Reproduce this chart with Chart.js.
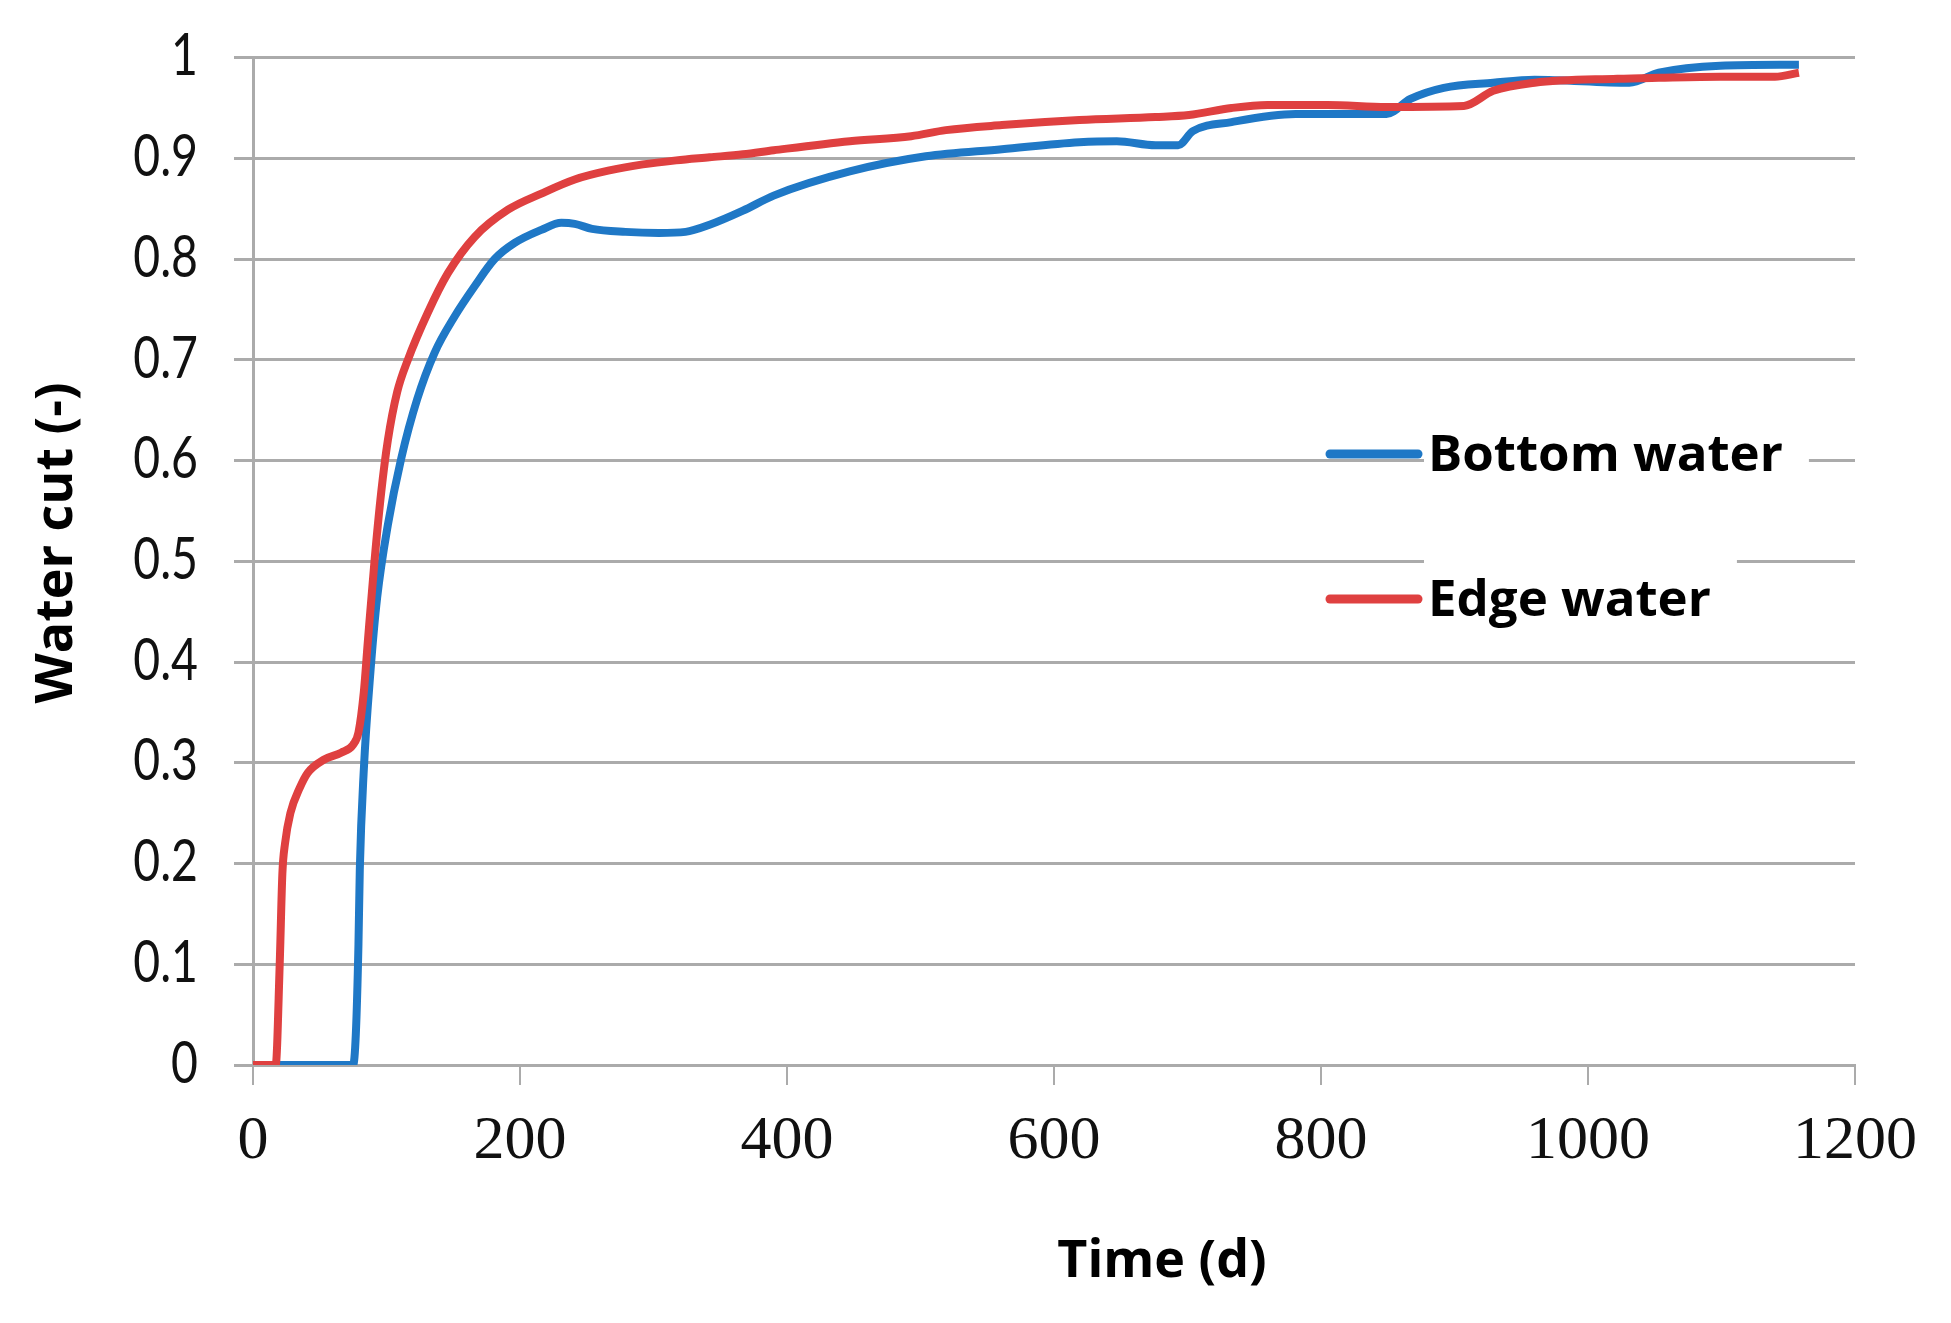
<!DOCTYPE html>
<html lang="en">
<head>
    <meta charset="UTF-8">
    <title>Water cut vs time</title>
    <script src="https://cdn.jsdelivr.net/npm/chart.js"></script>
    <style>
        html, body { margin: 0; padding: 0; background: #fff; }
        #wrap { width: 1951px; height: 1323px; }
    </style>
</head>
<body>
    <div id="wrap"><canvas id="waterCutChart"></canvas></div>
    <script>
        // Time (d) and water cut (-)
        var bottomDays = [18, 75, 77, 79, 80, 83, 88, 93, 101, 111, 123, 136, 151, 166, 181, 196, 216, 231, 241, 254, 279, 304, 324, 342, 367, 390, 447, 504, 561, 619, 647, 676, 693, 704, 733, 781, 805, 849, 867, 892, 929, 960, 1031, 1053, 1099, 1158];
        var bottomCut = [0, 0, 0.03, 0.12, 0.194, 0.293, 0.391, 0.464, 0.536, 0.602, 0.661, 0.707, 0.743, 0.773, 0.8, 0.816, 0.829, 0.836, 0.835, 0.83, 0.827, 0.826, 0.827, 0.834, 0.848, 0.863, 0.887, 0.902, 0.909, 0.916, 0.917, 0.913, 0.913, 0.927, 0.936, 0.944, 0.944, 0.944, 0.959, 0.97, 0.975, 0.978, 0.975, 0.985, 0.992, 0.993];

        var edgeDays = [0, 17, 20, 22, 24, 28, 35, 41, 53, 66, 75, 79, 83, 86, 91, 96, 101, 108, 116, 131, 146, 166, 191, 216, 241, 267, 292, 317, 342, 367, 390, 447, 493, 519, 561, 619, 676, 701, 733, 760, 805, 849, 907, 929, 960, 1022, 1053, 1099, 1140, 1158];
        var edgeCut = [0, 0, 0.1, 0.19, 0.22, 0.25, 0.275, 0.29, 0.303, 0.31, 0.318, 0.33, 0.37, 0.42, 0.5, 0.568, 0.62, 0.668, 0.7, 0.747, 0.786, 0.822, 0.849, 0.865, 0.879, 0.888, 0.894, 0.898, 0.901, 0.904, 0.908, 0.917, 0.922, 0.928, 0.933, 0.938, 0.941, 0.943, 0.95, 0.953, 0.953, 0.951, 0.952, 0.967, 0.975, 0.979, 0.98, 0.981, 0.981, 0.985];

        var seriesNames = ['Bottom water', 'Edge water'];
        var xTitle = 'Time (d)';
        var yTitle = 'Water cut (-)';

        var BLUE = '#1f78c6';
        var RED = '#df4040';
        var GRID = '#ababab';

        function pairs(xs, ys) {
            return xs.map(function (x, i) { return { x: x, y: ys[i] }; });
        }

        function fmt(v) {
            return String(Math.round(v * 10) / 10);
        }

        // legend box inside the plot, axis titles, narrow y tick labels
        var extras = {
            id: 'extras',
            afterDatasetsDraw: function (chart) {
                var ctx = chart.ctx;
                var rows = [
                    { name: seriesNames[0], color: BLUE, y: 454 },
                    { name: seriesNames[1], color: RED, y: 599 }
                ];
                ctx.save();
                ctx.font = 'bold 51px "Open Sans", "Noto Sans", sans-serif';
                ctx.textBaseline = 'middle';
                rows.forEach(function (r) {
                    var w = ctx.measureText(r.name).width;
                    ctx.fillStyle = '#fff';
                    ctx.fillRect(1424, r.y - 40, w + 30, 80);
                    ctx.strokeStyle = r.color;
                    ctx.lineWidth = 9;
                    ctx.lineCap = 'round';
                    ctx.beginPath();
                    ctx.moveTo(1330, r.y);
                    ctx.lineTo(1418, r.y);
                    ctx.stroke();
                    ctx.fillStyle = '#000';
                    ctx.fillText(r.name, 1428, r.y + 2);
                });

                ctx.font = 'bold 52px "Open Sans", "Noto Sans", sans-serif';
                ctx.textAlign = 'center';
                ctx.fillText(xTitle, 1162, 1262);
                ctx.save();
                ctx.translate(57, 543);
                ctx.rotate(-Math.PI / 2);
                ctx.fillText(yTitle, 0, 0);
                ctx.restore();

                var ys = chart.scales.y;
                ctx.font = '58px Lato, "Open Sans", sans-serif';
                ctx.textAlign = 'right';
                ctx.fillStyle = '#111';
                ys.ticks.forEach(function (t, i) {
                    ctx.save();
                    ctx.translate(198, ys.getPixelForTick(i) - 1);
                    ctx.scale(0.8, 1);
                    ctx.fillText(fmt(t.value), 0, 0);
                    ctx.restore();
                });
                ctx.restore();
            }
        };

        document.addEventListener('DOMContentLoaded', function () {
            var ctx = document.getElementById('waterCutChart').getContext('2d');
            new Chart(ctx, {
                type: 'line',
                data: {
                    datasets: [{
                        label: seriesNames[0],
                        data: pairs(bottomDays, bottomCut),
                        borderColor: BLUE,
                        borderWidth: 8,
                        pointRadius: 0,
                        cubicInterpolationMode: 'monotone',
                        order: 1
                    }, {
                        label: seriesNames[1],
                        data: pairs(edgeDays, edgeCut),
                        borderColor: RED,
                        borderWidth: 8,
                        pointRadius: 0,
                        cubicInterpolationMode: 'monotone',
                        order: 0
                    }]
                },
                options: {
                    responsive: true,
                    maintainAspectRatio: false,
                    animation: false,
                    layout: { padding: { top: 0, right: 96, left: 0, bottom: 0 } },
                    plugins: {
                        legend: { display: false },
                        tooltip: { enabled: false }
                    },
                    scales: {
                        x: {
                            type: 'linear',
                            min: 0,
                            max: 1200,
                            afterFit: function (s) { s.height = 258; },
                            ticks: {
                                stepSize: 200,
                                padding: 20,
                                color: '#111',
                                callback: function (v) { return String(v); },
                                font: { family: '"Liberation Serif", "DejaVu Serif", serif', size: 62 }
                            },
                            grid: {
                                drawOnChartArea: false,
                                color: GRID,
                                lineWidth: 2,
                                tickLength: 20
                            },
                            border: { color: GRID, width: 3 }
                        },
                        y: {
                            min: 0,
                            max: 1,
                            afterFit: function (s) { s.width = 253; },
                            ticks: {
                                stepSize: 0.1,
                                padding: 24,
                                color: 'rgba(0,0,0,0)',
                                callback: fmt,
                                font: { family: 'Lato, sans-serif', size: 56 }
                            },
                            grid: {
                                color: GRID,
                                lineWidth: 3,
                                tickLength: 19
                            },
                            border: { color: GRID, width: 3 }
                        }
                    }
                },
                plugins: [extras]
            });
        });
    </script>
</body>
</html>
